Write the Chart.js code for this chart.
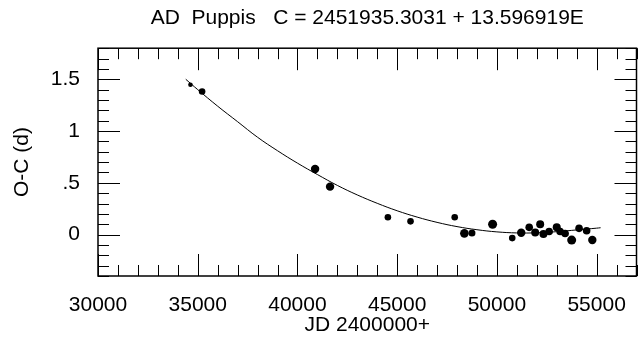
<!DOCTYPE html>
<html>
<head>
<meta charset="utf-8">
<script src="https://cdn.jsdelivr.net/npm/chart.js@4.4.1/dist/chart.umd.min.js"></script>
<style>
  body { margin: 0; background: #fff; }
  #wrap { width: 641px; height: 343px; }
</style>
</head>
<body>
<div id="wrap"><canvas id="ocChart"></canvas></div>
<script>
// observed times of maximum (JD - 2400000) and their O-C residuals in days
const jd = [34635, 35220, 40885, 41635, 44535, 45670, 47885, 48370, 48750, 49785,
  50770, 51220, 51620, 51920, 52170, 52335, 52620, 53000, 53170, 53420,
  53750, 54120, 54500, 54785];
const oc = [1.447, 1.382, 0.634, 0.463, 0.167, 0.128, 0.167, 0.012, 0.015, 0.10,
  -0.034, 0.017, 0.07, 0.02, 0.10, 0.005, 0.03, 0.07, 0.03, 0.01,
  -0.053, 0.06, 0.037, -0.053];
const dotSize = [2.3, 3.3, 4.2, 4.2, 3.3, 3.3, 3.3, 4.3, 3.5, 4.5,
  3.3, 4.2, 3.8, 4, 4, 4, 3.8, 4, 3.8, 3.8,
  4.5, 3.8, 3.8, 4.2];

// parabolic fit
const fitJd = [34400, 35000, 36000, 37000, 38000, 39000, 40000, 41000, 42000, 43000, 44000,
  45000, 46000, 47000, 48000, 49000, 50000, 51000, 52000, 53000, 54000, 55000, 55200];
const fitOc = [1.50, 1.40, 1.24, 1.09, 0.94, 0.81, 0.69, 0.58, 0.475, 0.383, 0.302,
  0.23, 0.169, 0.118, 0.077, 0.047, 0.026, 0.016, 0.017, 0.028, 0.045, 0.062, 0.066];

const xLabels = [30000, 35000, 40000, 45000, 50000, 55000];
const yLabels = [0, 0.5, 1, 1.5];
const yLabelText = { 0: '0', 0.5: '.5', 1: '1', 1.5: '1.5' };

const FONT = "'Liberation Sans', Arial, sans-serif";

// frame with inward ticks on all four sides
const framePlugin = {
  id: 'frame',
  afterDraw(chart) {
    const ctx = chart.ctx;
    const a = chart.chartArea;
    const xs = chart.scales.x;
    const ys = chart.scales.y;
    ctx.save();
    ctx.strokeStyle = '#000';
    ctx.lineWidth = 1;
    ctx.beginPath();
    for (let v = 30000; v <= 57000; v += 1000) {
      const len = v % 5000 === 0 ? 22 : 11;
      const px = Math.round(xs.getPixelForValue(v)) + 0.5;
      ctx.moveTo(px, a.bottom); ctx.lineTo(px, a.bottom - len);
      ctx.moveTo(px, a.top); ctx.lineTo(px, a.top + len);
    }
    for (let i = -4; i <= 18; i++) {
      const len = i % 5 === 0 ? 22 : 11;
      const py = Math.round(ys.getPixelForValue(i / 10)) + 0.5;
      ctx.moveTo(a.left, py); ctx.lineTo(a.left + len, py);
      ctx.moveTo(a.right, py); ctx.lineTo(a.right - len, py);
    }
    ctx.stroke();
    ctx.lineWidth = 1.5;
    ctx.strokeRect(a.left, a.top, a.right - a.left, a.bottom - a.top);
    ctx.restore();
  },
};

Chart.register(framePlugin);

const ctx = document.getElementById('ocChart').getContext('2d');
const chart = new Chart(ctx, {
  type: 'scatter',
  data: {
    datasets: [
      {
        label: 'fit',
        data: fitJd.map((x, i) => ({ x: x, y: fitOc[i] })),
        showLine: true,
        borderColor: '#000',
        borderWidth: 1,
        pointRadius: 0,
        tension: 0.4,
      },
      {
        label: 'O-C',
        data: jd.map((x, i) => ({ x: x, y: oc[i] })),
        backgroundColor: '#000',
        borderWidth: 0,
        pointRadius: dotSize,
      },
    ],
  },
  options: {
    animation: false,
    responsive: true,
    maintainAspectRatio: false,
    layout: { padding: { top: 0, right: 3, bottom: 0, left: 0 } },
    plugins: {
      legend: { display: false },
      tooltip: { enabled: false },
      title: {
        display: true,
        fullSize: false,
        text: 'AD  Puppis   C = 2451935.3031 + 13.596919E',
        color: '#000',
        font: { family: FONT, size: 21, weight: 'normal' },
        padding: { top: 6, bottom: 17 },
      },
    },
    scales: {
      x: {
        type: 'linear',
        min: 30000,
        max: 57000,
        grid: { display: false },
        border: { display: false },
        afterBuildTicks: (s) => { s.ticks = xLabels.map((v) => ({ value: v })); },
        afterFit: (s) => { s.height = 67; },
        ticks: {
          color: '#000',
          font: { family: FONT, size: 21 },
          padding: 9,
          maxRotation: 0,
          autoSkip: false,
          callback: (v) => String(v),
        },
        title: {
          display: true,
          text: 'JD 2400000+',
          color: '#000',
          font: { family: FONT, size: 21 },
          padding: { top: 2, bottom: 5 },
        },
      },
      y: {
        min: -0.4,
        max: 1.8,
        grid: { display: false },
        border: { display: false },
        afterBuildTicks: (s) => { s.ticks = yLabels.map((v) => ({ value: v })); },
        afterFit: (s) => { s.width = 98; },
        ticks: {
          color: '#000',
          font: { family: FONT, size: 21 },
          padding: 10,
          callback: (v) => yLabelText[v],
        },
        title: {
          display: true,
          text: 'O-C (d)',
          color: '#000',
          font: { family: FONT, size: 21 },
          padding: { top: 10, bottom: 0 },
        },
      },
    },
  },
});
</script>
</body>
</html>
